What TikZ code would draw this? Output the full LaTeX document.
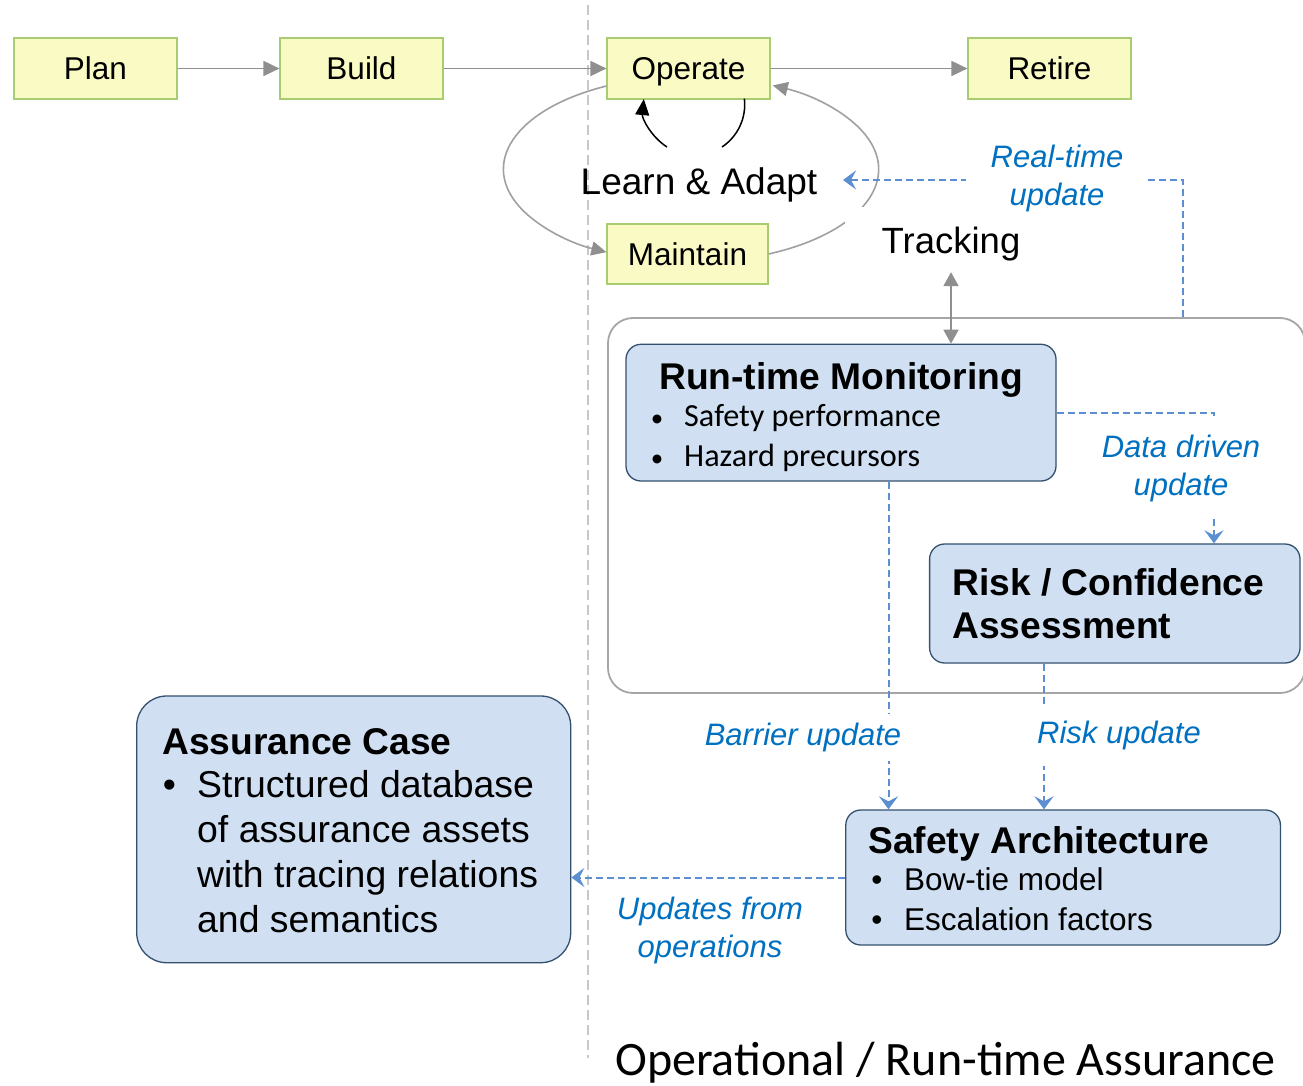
\documentclass[tikz,border=0pt]{standalone}
\usepackage{fontspec}
\setmainfont{Liberation Sans}
\newfontfamily\calfont{Carlito}
\usetikzlibrary{arrows.meta}
\definecolor{ylwfill}{HTML}{FAFAC4}
\definecolor{ylwdraw}{HTML}{A9CB72}
\definecolor{bluefill}{HTML}{D0E0F2}
\definecolor{bluedraw}{HTML}{34506F}
\definecolor{lblblue}{HTML}{0070C0}
\definecolor{dashblue}{HTML}{5B8FD2}
\definecolor{arrgray}{HTML}{8F8F8F}
\definecolor{ellgray}{HTML}{A0A0A0}
\definecolor{contgray}{HTML}{A6A6A6}
\definecolor{vgray}{HTML}{C8C8C8}
\begin{document}
\begin{tikzpicture}[x=1pt,y=-1pt,
 phase/.style={draw=ylwdraw,fill=ylwfill,line width=1.2pt,minimum width=163pt,minimum height=61pt,inner sep=0pt,text height=27pt,text depth=4pt,font=\fontsize{31.5}{38}\selectfont},
 bbox/.style={draw=bluedraw,fill=bluefill,line width=1.3pt,rounded corners=15pt,inner sep=0pt},
 ttext/.style={inner sep=0pt,font=\fontsize{37.2}{43}\selectfont\bfseries},
 btext/.style={inner sep=0pt,font=\fontsize{31.5}{40}\selectfont},
 atext/.style={inner sep=0pt,font=\fontsize{37.4}{45}\selectfont},
 ctext/.style={inner sep=0pt,font=\calfont\fontsize{32.2}{40}\selectfont},
 cbul/.style={inner sep=0pt,font=\calfont\fontsize{25}{40}\selectfont},
 lbl/.style={text=lblblue,font=\fontsize{31}{38}\selectfont\itshape,align=center},
 mask/.style={fill=white,inner sep=0pt},
 grayarr/.style={draw=arrgray,line width=1.8pt,-{Triangle[length=16pt,width=15pt]}},
 ellarr/.style={draw=ellgray,line width=1.6pt,-{Triangle[length=15pt,width=14pt,color=arrgray]}},
 bluearr/.style={draw=dashblue,line width=2pt,dash pattern=on 7pt off 4pt,-{Stealth[length=13pt,width=19pt,inset=5pt]}}
]
\useasboundingbox (0,0) rectangle (1303,1086);

% vertical divider
\coordinate (vtop) at (588,5);
\coordinate (vbot) at (588,1058);
\draw[vgray,line width=1.8pt,dash pattern=on 10pt off 5pt] (vtop) -- (vbot);

% container
\node[draw=contgray,line width=1.8pt,rounded corners=25pt,minimum width=697pt,minimum height=375pt,inner sep=0pt] (cont) at (956.5,505.5) {};

% lifecycle phases
\node[phase] (plan) at (95.5,68.5) {Plan};
\node[phase] (build) at (361.5,68.5) {Build};
\node[phase] (operate) at (688.5,68.5) {Operate};
\node[phase] (retire) at (1049.5,68.5) {Retire};
\node[phase,minimum width=161pt,minimum height=60pt] (maintain) at (687.5,254) {Maintain};

\draw[grayarr] (plan) -- (build);
\draw[grayarr] (build) -- (operate);
\draw[grayarr] (operate) -- (retire);

% learn & adapt loop
\node[inner sep=0pt,anchor=base,font=\fontsize{37}{43}\selectfont] (learn) at (699,195) {Learn \& Adapt};
\draw[ellarr] ([yshift=-17.5pt]operate.west) arc[start angle=243.3,end angle=116.7,x radius=187,y radius=93];
\draw[ellarr] (maintain.east) arc[start angle=65.7,end angle=-64.3,x radius=187,y radius=93];
\coordinate (la1) at (667,147);
\coordinate (la2) at (722,147);
\draw[black,line width=1.5pt,-{Triangle[length=16pt,width=14pt]}] (la1) arc[start angle=122.7,end angle=185.6,radius=51];
\draw[black,line width=1.5pt] (la2) arc[start angle=56.3,end angle=-6.7,radius=51];

% tracking
\node[mask,font=\fontsize{36.5}{43}\selectfont,minimum width=212pt,minimum height=74pt] (track) at (951,244) {Tracking};

% blue boxes
\node[bbox,minimum width=430pt,minimum height=136.7pt] (rtm) at (841,412.65) {};
\node[bbox,minimum width=370.4pt,minimum height=119pt] (risk) at (1114.8,603.5) {};
\node[bbox,minimum width=434.6pt,minimum height=135pt] (sa) at (1063.1,877.5) {};
\node[bbox,rounded corners=30pt,minimum width=434pt,minimum height=266.7pt] (ac) at (353.7,829.35) {};

\draw[draw=arrgray,line width=1.8pt,{Triangle[length=14pt,width=15pt]}-{Triangle[length=14pt,width=15pt]}] ([yshift=9pt]track.south) -- (track.south |- rtm.north);

% box texts
\node[ttext,anchor=base] (rtmt) at (841,389) {Run-time Monitoring};
\node[cbul,anchor=base] (rtmb1) at (657,426.7) {•};
\node[cbul,anchor=base] (rtmb2) at (657,466.7) {•};
\node[ctext,anchor=base west] (rtm1) at (684,426.7) {Safety performance};
\node[ctext,anchor=base west] (rtm2) at (684,466.7) {Hazard precursors};

\node[ttext,anchor=base west] (riskt1) at (952,595) {Risk / Confidence};
\node[ttext,anchor=base west] (riskt2) at (952,638) {Assessment};

\node[ttext,anchor=base west] (sat) at (868,853) {Safety Architecture};
\node[btext,anchor=base] (sab1) at (877,890) {•};
\node[btext,anchor=base] (sab2) at (877,930) {•};
\node[btext,anchor=base west] (sa1) at (904,890) {Bow-tie model};
\node[btext,anchor=base west] (sa2) at (904,930) {Escalation factors};

\node[ttext,anchor=base west] (act) at (162,754) {Assurance Case};
\node[atext,anchor=base] (acb) at (169.5,797.3) {•};
\node[atext,anchor=base west] (ac1) at (197,797.3) {Structured database};
\node[atext,anchor=base west] (ac2) at (197,842.7) {of assurance assets};
\node[atext,anchor=base west] (ac3) at (197,887.3) {with tracing relations};
\node[atext,anchor=base west] (ac4) at (197,932.3) {and semantics};

% blue dashed connectors
\coordinate (rtip) at (843,180);
\draw[bluearr] ([xshift=226.5pt]cont.north) |- (rtip);
\draw[bluearr] (rtm.east) -| ([xshift=99.2pt]risk.north);
\draw[bluearr] ([xshift=47.5pt]rtm.south) -- ([xshift=-174.6pt]sa.north);
\draw[bluearr] ([xshift=-70.8pt]risk.south) -- ([xshift=-19.1pt]sa.north);
\draw[bluearr] (sa.west) -- (sa.west -| ac.east);

% labels
\node[lbl,mask,minimum width=182pt,minimum height=75pt] (rtlbl) at (1057,178) {Real-time\\update};
\node[lbl,mask,minimum width=176pt,minimum height=96pt] (ddlbl) at (1181,468) {Data driven\\update};
\node[lbl,mask,minimum width=216pt,minimum height=47pt] (brlbl) at (803,737) {Barrier update};
\node[lbl,mask,minimum width=180pt,minimum height=62pt] (rklbl) at (1119,735) {Risk update};
\node[lbl,inner sep=0pt] (uplbl) at (710,930) {Updates from\\operations};

% bottom title
\node[anchor=base,inner sep=0pt,font=\calfont\fontsize{48}{58}\selectfont] (ttl) at (945.5,1075) {Operational / Run-time Assurance};
\end{tikzpicture}
\end{document}
